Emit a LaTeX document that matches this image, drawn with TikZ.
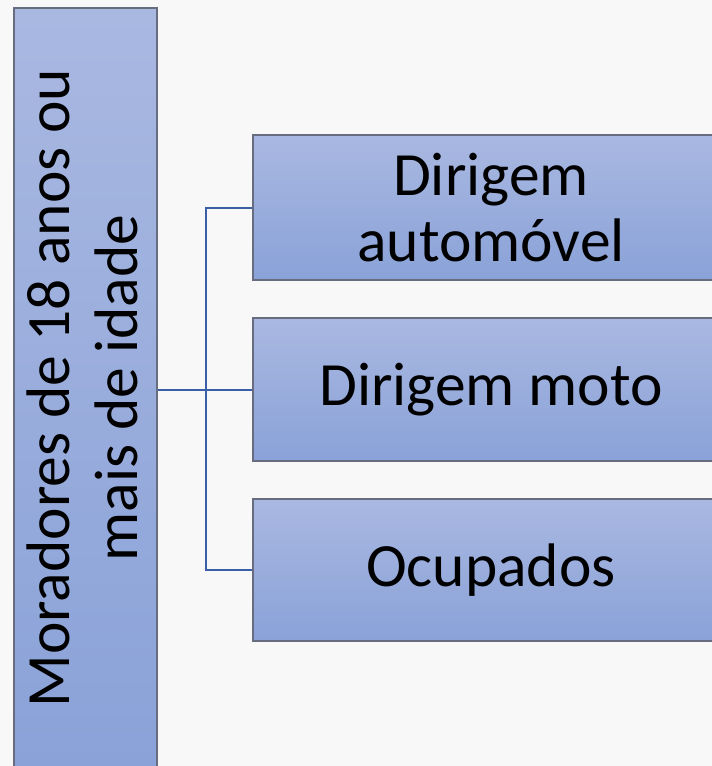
\documentclass[tikz,border=0pt]{standalone}
\usepackage{fontspec}
\setmainfont{Carlito}
\definecolor{bg}{HTML}{F8F8F8}
\definecolor{boxtop}{HTML}{A9B8E1}
\definecolor{boxbot}{HTML}{8AA2D8}
\definecolor{boxline}{HTML}{676D7E}
\definecolor{conn}{HTML}{3B5FA6}
\begin{document}
\begin{tikzpicture}[x=1pt,y=-1pt,
  box/.style={draw=boxline,line width=1.5pt,top color=boxtop,bottom color=boxbot,
    inner sep=0pt,font=\fontsize{61.5}{66}\selectfont,align=center},
  link/.style={draw=conn,line width=2pt}]
\fill[bg] (0,0) rectangle (712,766);
\useasboundingbox (0,0) rectangle (712,766);
\node[box,minimum width=143pt,minimum height=760pt] (left) at (85.5,388) {};
\node[rotate=90,align=center,font=\fontsize{61.5}{68}\selectfont,inner sep=0pt] (lefttext) at (82,388) {Moradores de 18 anos ou\\mais de idade};
\node[box,minimum width=476pt,minimum height=145pt] (b1) at (491,207.5) {Dirigem\\automóvel};
\node[box,minimum width=476pt,minimum height=143pt] (b2) at (491,389.5) {Dirigem moto};
\node[box,minimum width=476pt,minimum height=142pt] (b3) at (491,570) {Ocupados};
\coordinate (j) at (206,389.5);
\draw[link] (left.east |- j) -- (b2.west);
\draw[link] (b1.west) -| (j) |- (b3.west);
\end{tikzpicture}
\end{document}
